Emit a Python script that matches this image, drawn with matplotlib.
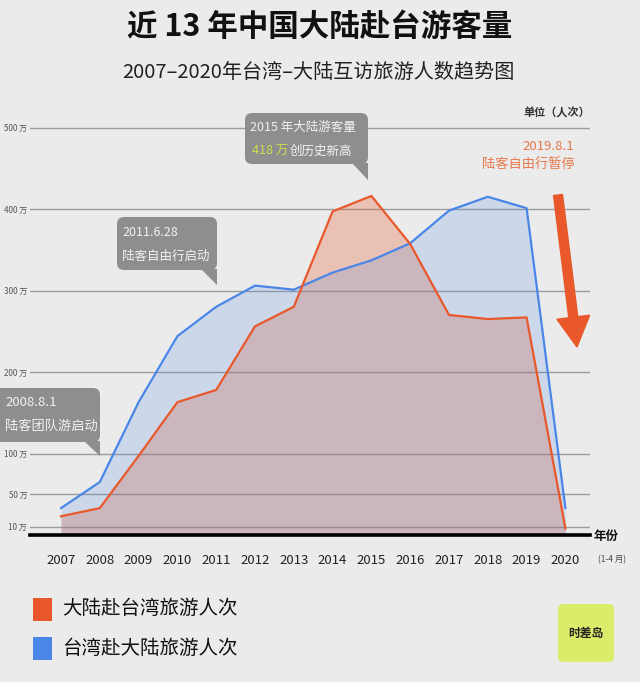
import numpy as np
import matplotlib
matplotlib.use("Agg")
import matplotlib.pyplot as plt
from matplotlib.patches import FancyBboxPatch, Polygon, FancyArrow, Rectangle

plt.rcParams['font.family'] = ['Noto Sans CJK SC', 'DejaVu Sans']

# Data (unit: 万人次)
years = [2007, 2008, 2009, 2010, 2011, 2012, 2013, 2014, 2015, 2016, 2017, 2018, 2019, 2020]
mainland_to_tw = [23, 33, 97, 163, 178, 256, 280, 397, 416, 357, 270, 265, 267, 8]
tw_to_mainland = [33, 65, 163, 244, 280, 306, 301, 322, 337, 358, 398, 415, 401, 33]
year_labels = [str(y) for y in years]
grid_vals = [10, 50, 100, 200, 300, 400, 500]
grid_labels = [f"{v} 万" for v in grid_vals]

ORANGE = "#e8582a"
BLUE = "#4a86e8"
BG = "#ebebeb"
W, H = 640, 682

fig = plt.figure(figsize=(W / 100, H / 100), dpi=100, facecolor=BG)

# chart area in pixel terms: x 30..590, y 100..535 (baseline = 0)
px_per_year = 38.8
x_left = 2007 - 31 / px_per_year
x_right = 2007 + 529 / px_per_year
px_per_val = 0.815
ax = fig.add_axes([30 / W, (H - 535) / H, 560 / W, 435 / H])
ax.set_facecolor("none")
ax.set_xlim(x_left, x_right)
ax.set_ylim(0, 435 / px_per_val)

for v in grid_vals:
    ax.axhline(v, color="#9c9c9c", lw=1.0, zorder=1)
ax.axhline(0, color="black", lw=2.6, zorder=5, clip_on=False)

ax.fill_between(years, mainland_to_tw, 0, color=ORANGE, alpha=0.28, lw=0, zorder=2)
ax.fill_between(years, tw_to_mainland, 0, color=BLUE, alpha=0.19, lw=0, zorder=2)
ax.plot(years, tw_to_mainland, color=BLUE, lw=1.6, zorder=3)
ax.plot(years, mainland_to_tw, color=ORANGE, lw=1.6, zorder=4)

ax.set_yticks(grid_vals)
ax.set_yticklabels(grid_labels, fontsize=5.8, color="#555555")
ax.set_xticks(years)
ax.set_xticklabels(year_labels, fontsize=9.5, color="#222222")
ax.tick_params(axis="both", length=0)
ax.tick_params(axis="y", pad=2)
ax.tick_params(axis="x", pad=14)
for s in ax.spines.values():
    s.set_visible(False)

# overlay in pixel coordinates for titles, callouts, legend
deco = fig.add_axes([0, 0, 1, 1])
deco.set_xlim(0, W)
deco.set_ylim(H, 0)
deco.axis("off")
deco.set_facecolor("none")

deco.text(320, 27, "近 13 年中国大陆赴台游客量", ha="center", va="center",
          fontsize=22, fontweight="bold", color="#111111")
deco.text(318, 72, "2007–2020年台湾–大陆互访旅游人数趋势图", ha="center", va="center",
          fontsize=14.5, color="#222222")
deco.text(590, 113, "单位（人次）", ha="right", va="center", fontsize=8,
          fontweight="bold", color="#333333")
deco.text(594, 536, "年份", ha="left", va="center", fontsize=9,
          fontweight="bold", color="#111111")
deco.text(598, 560, "(1-4 月)", ha="left", va="center", fontsize=6, color="#444444")


def callout(x0, y0, x1, y1, tail_y, lines, size=9):
    box = FancyBboxPatch((x0, y0), x1 - x0, y1 - y0,
                         boxstyle="round,pad=0,rounding_size=7",
                         fc="#8e8e8e", ec="none", zorder=6)
    deco.add_patch(box)
    deco.add_patch(Polygon([[x1 - 16, y1 - 1], [x1, y1 - 1], [x1, tail_y]],
                           closed=True, fc="#8e8e8e", ec="none", zorder=6))
    for txt, ty in lines:
        deco.text(max(x0, 0) + 5, ty, txt, ha="left", va="center", fontsize=size,
                  color="#f2f2f2", zorder=7)


callout(-8, 388, 100, 442, 456, [("2008.8.1", 402), ("陆客团队游启动", 426)], size=9.5)
callout(117, 217, 217, 270, 285, [("2011.6.28", 232), ("陆客自由行启动", 256)])

# 2015 callout with highlighted number
callout(245, 113, 368, 164, 180, [("2015 年大陆游客量", 128)])
deco.text(252, 151, "418 万", ha="left", va="center", fontsize=9,
          color="#cddc4a", zorder=7)
deco.text(290, 151, "创历史新高", ha="left", va="center", fontsize=9,
          color="#f2f2f2", zorder=7)

deco.text(574, 146, "2019.8.1", ha="right", va="center", fontsize=9.5, color="#e8784c")
deco.text(575, 165, "陆客自由行暂停", ha="right", va="center", fontsize=9.5, color="#e8784c")
deco.add_patch(FancyArrow(558, 195, 19, 152, width=9, head_width=33, head_length=30,
                          length_includes_head=True, color=ORANGE, zorder=6))

# legend
deco.add_patch(Rectangle((33, 598), 19, 23, fc=ORANGE, ec="none"))
deco.add_patch(Rectangle((33, 637), 19, 23, fc=BLUE, ec="none"))
deco.text(62, 609, "大陆赴台湾旅游人次", ha="left", va="center", fontsize=14, color="#111111")
deco.text(62, 648, "台湾赴大陆旅游人次", ha="left", va="center", fontsize=14, color="#111111")

# logo
deco.add_patch(FancyBboxPatch((558, 604), 56, 58, boxstyle="round,pad=0,rounding_size=5",
                              fc="#dbeb6a", ec="none"))
deco.text(586, 633, "时差岛", ha="center", va="center", fontsize=8.5,
          fontweight="bold", color="#222222")

fig.savefig("out.png", dpi=100, facecolor=BG)
